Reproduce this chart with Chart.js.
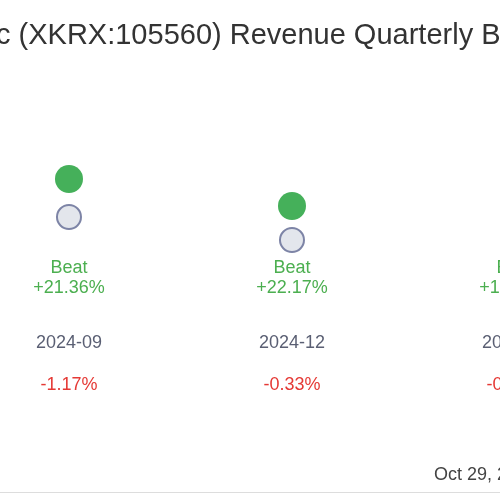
<!DOCTYPE html>
<html>
<head>
<meta charset="utf-8">
<script src="https://cdn.jsdelivr.net/npm/chart.js@4/dist/chart.umd.min.js"></script>
<style>
  html, body { margin: 0; padding: 0; background: #fff; }
  #wrap { width: 500px; height: 500px; }
</style>
</head>
<body>
<div id="wrap"><canvas id="chart"></canvas></div>
<script>
// Quarterly revenue: actual vs estimate (hidden axis units)
const quarters = ['2024-09', '2024-12', '2025-03'];
const actual = [2.16, 1.89, 1.95];
const estimate = [1.78, 1.55, 1.70];
const surprise = ['+21.36%', '+22.17%', '+14.71%'];
const priceMove = ['-1.17%', '-0.33%', '-0.52%'];
const titleText = 'KB Financial Group Inc (XKRX:105560) Revenue Quarterly Beat/Miss';

const labelsPlugin = {
    id: 'labels',
    afterDraw(chart) {
        const ctx = chart.ctx;
        const x = chart.scales.x;
        ctx.save();
        ctx.textAlign = 'left';
        ctx.textBaseline = 'middle';
        ctx.font = '29px "Liberation Sans", Arial, sans-serif';
        ctx.fillStyle = '#333';
        const offset = ctx.measureText('KB Financial Group In').width;
        ctx.fillText(titleText, -offset - 4, 36);

        ctx.textAlign = 'center';
        ctx.font = '18px "Liberation Sans", Arial, sans-serif';
        quarters.forEach((q, i) => {
            const px = x.getPixelForValue(i);
            ctx.fillStyle = '#4caf50';
            ctx.fillText('Beat', px, 268);
            ctx.fillText(surprise[i], px, 288);
            ctx.fillStyle = '#5a5f73';
            ctx.fillText(q, px, 343);
            ctx.fillStyle = '#e53935';
            ctx.fillText(priceMove[i], px, 385);
        });

        ctx.textAlign = 'left';
        ctx.fillStyle = '#444';
        ctx.font = '18px "Liberation Sans", Arial, sans-serif';
        ctx.fillText('Oct 29, 2025', 434, 475);
        ctx.strokeStyle = '#ddd';
        ctx.lineWidth = 1;
        ctx.beginPath();
        ctx.moveTo(0, 492.5);
        ctx.lineTo(500, 492.5);
        ctx.stroke();
        ctx.restore();
    }
};

new Chart(document.getElementById('chart'), {
    type: 'scatter',
    data: {
        datasets: [{
            label: 'Actual',
            data: actual.map((v, i) => ({ x: i, y: v })),
            pointRadius: 14,
            backgroundColor: '#45b05a',
            borderColor: '#45b05a',
            borderWidth: 0
        }, {
            label: 'Estimate',
            data: estimate.map((v, i) => ({ x: i, y: v })),
            pointRadius: 12,
            backgroundColor: '#e3e6ec',
            borderColor: '#7d84a6',
            borderWidth: 2
        }]
    },
    options: {
        responsive: true,
        maintainAspectRatio: false,
        animation: false,
        layout: { padding: 0 },
        scales: {
            x: { type: 'linear', display: false, min: -0.2466, max: 1.870 },
            y: { display: false, min: -0.91, max: 3.81 }
        },
        plugins: { legend: { display: false }, tooltip: { enabled: false } }
    },
    plugins: [labelsPlugin]
});
</script>
</body>
</html>
